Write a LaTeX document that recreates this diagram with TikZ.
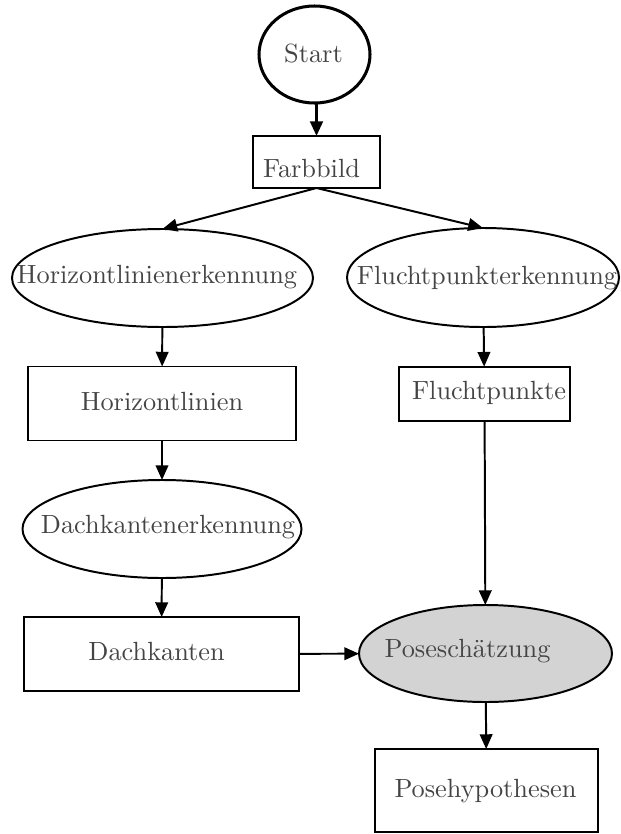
\documentclass[tikz,border=0pt]{standalone}
\usetikzlibrary{shapes.geometric,arrows.meta}
\definecolor{labelgray}{RGB}{68,68,68}
\definecolor{posefill}{RGB}{211,211,211}
\newcommand{\pu}{0.38pt}
\begin{document}
\begin{tikzpicture}[x=0.38pt,y=-0.38pt,
  flowbox/.style={draw, rectangle, line width=0.75pt, inner sep=0pt, outer sep=0pt},
  flowoval/.style={draw, ellipse, line width=0.75pt, inner sep=0pt, outer sep=0pt},
  lbl/.style={anchor=base, inner sep=0pt, text=labelgray, font=\fontsize{10}{12}\selectfont},
  arr/.style={-{Triangle[length=5.6pt,width=4.8pt]}, line width=0.75pt}]
\useasboundingbox (0,0) rectangle (621,834);

% shapes
\node[flowoval, line width=1.15pt, minimum width={111*\pu}, minimum height={97*\pu}] (start) at (314.5,54.5) {};
\node[flowbox, minimum width={127*\pu}, minimum height={52*\pu}] (farbbild) at (316.5,162) {};
\node[flowoval, minimum width={301*\pu}, minimum height={98*\pu}] (horerk) at (162.5,278) {};
\node[flowoval, minimum width={272*\pu}, minimum height={99*\pu}] (flerk) at (483,277.5) {};
\node[flowbox, minimum width={268*\pu}, minimum height={74*\pu}] (horlin) at (162,403.5) {};
\node[flowbox, minimum width={171*\pu}, minimum height={54*\pu}] (flpkt) at (484.5,393.7) {};
\node[flowoval, minimum width={279*\pu}, minimum height={98*\pu}] (dkerk) at (162,529) {};
\node[flowbox, minimum width={275*\pu}, minimum height={74*\pu}] (dkant) at (161.5,654) {};
\node[flowoval, fill=posefill, minimum width={253*\pu}, minimum height={97*\pu}] (pose) at (485.5,653.5) {};
\node[flowbox, minimum width={223*\pu}, minimum height={83*\pu}] (posehyp) at (486.5,790.5) {};

% labels
\node[lbl] (start-t) at (313.5,62) {Start};
\node[lbl] (farbbild-t) at (311.5,177) {Farbbild};
\node[lbl] (horerk-t) at (157,283.5) {Horizontlinienerkennung};
\node[lbl] (flerk-t) at (487,284.5) {Fluchtpunkterkennung};
\node[lbl] (horlin-t) at (162,410) {Horizontlinien};
\node[lbl] (flpkt-t) at (489,399) {Fluchtpunkte};
\node[lbl] (dkerk-t) at (168,533) {Dachkantenerkennung};
\node[lbl] (dkant-t) at (156.6,660) {Dachkanten};
\node[lbl] (pose-t) at (467.5,657) {Poseschätzung};
\node[lbl] (posehyp-t) at (485.5,797) {Posehypothesen};

% connectors
\draw[arr, line width=1.1pt] (start.south -| farbbild.north) -- (farbbild.north);
\draw[arr] (farbbild.south) -- (horerk.north);
\draw[arr] (farbbild.south) -- (flerk.north);
\draw[arr] (horerk) -- (horlin);
\draw[arr] (flerk) -- (flpkt);
\draw[arr] (horlin) -- (dkerk);
\draw[arr] (dkerk) -- (dkant);
\draw[arr] (flpkt) -- (pose);
\draw[arr] (dkant) -- (pose);
\draw[arr] (pose) -- (posehyp);
\end{tikzpicture}
\end{document}
